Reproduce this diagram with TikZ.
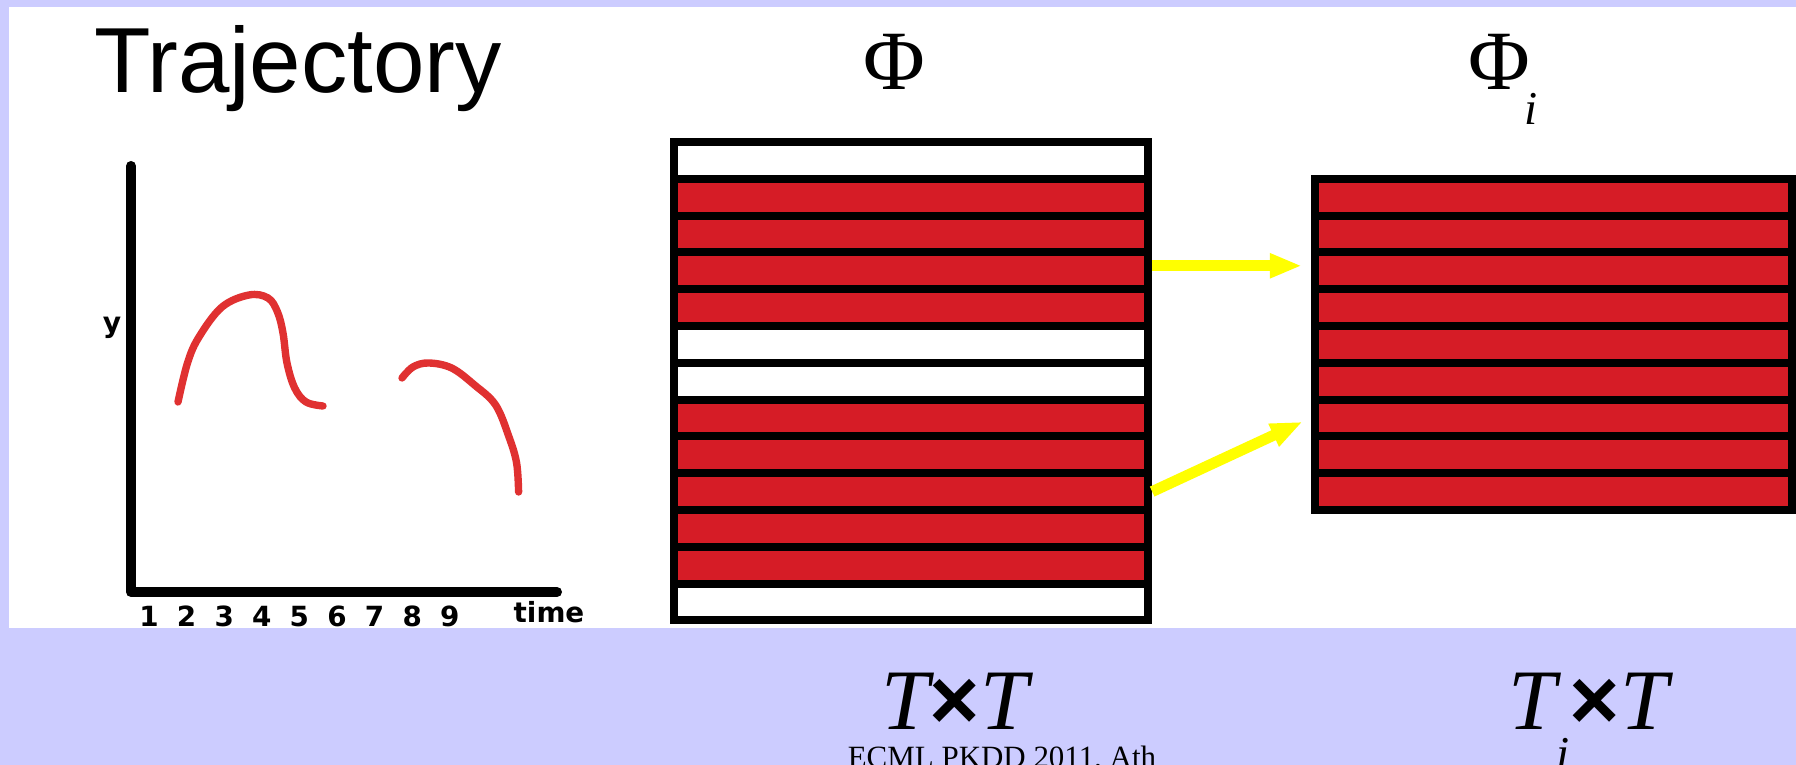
\documentclass[tikz,border=0pt]{standalone}
\usepackage{fontspec}
\setmainfont{Liberation Serif}
\newfontfamily\trajfont{Liberation Sans}
\newfontfamily\axisfont{DejaVu Sans}
\usepackage{tikz}
\usetikzlibrary{arrows.meta, positioning}
\definecolor{slidelav}{HTML}{CCCCFF}
\definecolor{phired}{HTML}{D61C26}
\definecolor{trajred}{HTML}{E03131}
\definecolor{hiyellow}{HTML}{FFFF00}

\begin{document}
\begin{tikzpicture}[x=0.01cm, y=-0.01cm,
        cell/.style={draw=black, line width=2.3pt, minimum width=4.74cm, minimum height=0.368cm, inner sep=0pt},
        axislab/.style={font=\axisfont\bfseries\fontsize{7.9}{10}\selectfont, anchor=base, inner sep=0pt},
        bigmath/.style={font=\fontsize{24.5}{28}\selectfont, inner sep=0pt},
        hiarrow/.style={-{Triangle[length=0.32cm, width=0.23cm]}, hiyellow, line width=3.1pt, shorten >=0.09cm},
        curve/.style={trajred, line width=2.1pt, line cap=round}]
    \clip (0,0) rectangle (1796,765);
    \fill[slidelav] (0,0) rectangle (1796,765);
    \fill[white] (9,7) rectangle (1796,628);

    \node[font=\trajfont\fontsize{26.3}{30}\selectfont, anchor=base, inner sep=0pt] (title) at (298,93) {Trajectory};
    \draw[line width=2.85pt, line cap=round, line join=round] (131,166) |- (557,592);
    \node[font=\axisfont\bfseries\fontsize{8}{10}\selectfont, anchor=base, inner sep=0pt] (ylab) at (112,333) {y};
    \foreach \n in {1,...,9}
        \node[axislab] (tick-\n) at ({149+37.6*(\n-1)},627) {\n};
    \node[axislab] (timelab) at (549,623) {time};
    \draw[curve] plot[smooth, tension=0.6] coordinates {(178,402) (187.5,363) (199,337) (222,307) (249,295) (268,298) (277.5,312) (283,333) (287,363) (294.7,388) (306,402) (323,406)};
    \draw[curve] plot[smooth, tension=0.6] coordinates {(402,378) (413,367) (428.6,363) (451.6,368) (474.5,385) (495.6,405) (509,437) (516.6,463) (518.6,492)};

    \foreach \c [count=\k from 0] in {white,phired,phired,phired,phired,white,white,phired,phired,phired,phired,phired,white}
        \node[cell, fill=\c] (phi-\k) at (911,{160.4+36.8*\k}) {};
    \foreach \k in {1,...,9}
        \node[cell, fill=phired, minimum width=4.77cm] (phii-\k) at (1553.5,{160.4+36.8*\k}) {};

    \draw[hiarrow] ([yshift=0.05cm]phi-3.east) -- ([yshift=0.05cm]phii-3.west);
    \draw[hiarrow] (phi-9.east) -- (phii-7.west);

    \node[font=\fontsize{24}{28}\selectfont, anchor=base, inner sep=0pt] (phitit) at (894,90) {Φ};
    \node[font=\fontsize{24}{28}\selectfont, anchor=base west, inner sep=0pt] (phiitit) at (1468,90) {Φ\kern-0.06cm\raisebox{-0.34cm}{\fontsize{13.4}{14}\selectfont\itshape i}};

    \node[bigmath, anchor=base] (dimphi) at (955,730) {\itshape T{\trajfont\upshape\bfseries ×}T};
    \node[bigmath, anchor=base west] (dimphii) at (1508,730) {\itshape T\raisebox{-0.39cm}{\fontsize{13.4}{14}\selectfont i}{\trajfont\upshape\bfseries ×}T};
    \node[font=\fontsize{8.8}{11}\selectfont, anchor=base, inner sep=0pt] (venue) at (1002,768) {ECML PKDD 2011, Ath};
\end{tikzpicture}
\end{document}
